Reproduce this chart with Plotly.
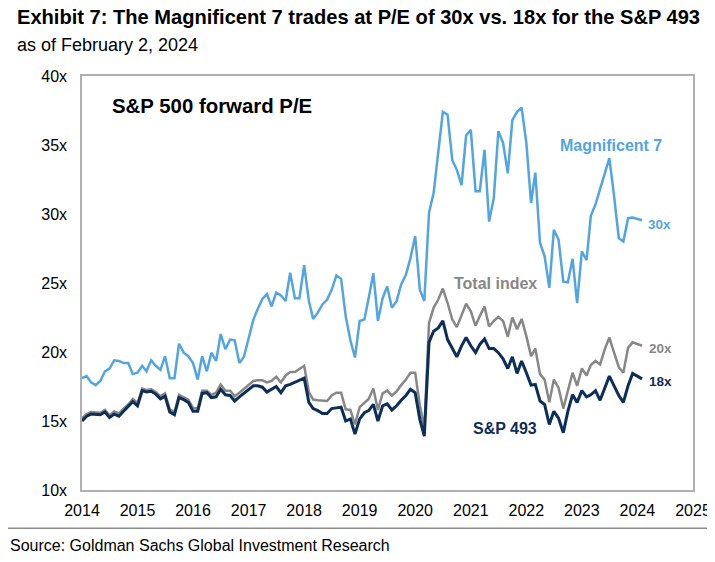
import plotly.graph_objects as go
import pandas as pd

dates = pd.date_range("2014-01-01", periods=122, freq="MS")

mag7 = [18.1, 18.25, 17.8, 17.6, 17.9, 18.6, 18.8, 19.4, 19.35, 19.2, 19.2, 18.4, 18.5, 19.0, 18.6, 19.4,
        19.0, 18.7, 19.7, 18.1, 18.1, 20.6, 19.95, 19.7, 19.2, 18.0, 19.7, 18.6, 19.95, 19.35, 21.3, 20.2,
        20.9, 20.85, 19.2, 19.65, 21.0, 22.35, 23.1, 23.85, 24.2, 23.3, 24.3, 24.1, 23.7, 25.75, 23.9, 23.9,
        26.3, 23.7, 22.4, 22.85, 23.45, 23.8, 24.5, 25.55, 25.3, 22.6, 20.85, 19.6, 22.25, 22.35, 23.9, 25.7,
        22.25, 23.9, 24.75, 23.2, 23.7, 24.9, 25.6, 26.8, 28.4, 24.5, 23.7, 30.1, 31.5, 34.4, 37.4, 37.2,
        33.9, 33.2, 32.1, 35.7, 36.1, 31.65, 31.65, 34.65, 29.45, 31.15, 36.0, 35.15, 32.95, 36.8, 37.4, 37.7,
        35.15, 30.8, 33.0, 27.9, 26.95, 24.65, 28.85, 28.15, 25.1, 25.05, 26.75, 23.55, 27.3, 26.65, 29.85, 30.7,
        31.75, 32.95, 34.05, 31.3, 28.25, 28.0, 29.7, 29.75, 29.65, 29.55]

total_index = [15.2, 15.5, 15.65, 15.65, 15.6, 15.8, 15.4, 15.7, 15.55, 15.9, 16.2, 16.6, 16.3, 17.35, 17.25, 17.3,
               17.1, 16.8, 17.0, 15.85, 15.65, 16.9, 16.75, 16.55, 15.95, 15.9, 17.2, 17.2, 16.9, 17.05, 17.65, 17.2,
               17.2, 16.8, 17.05, 17.35, 17.6, 17.9, 17.95, 17.95, 17.8, 17.9, 18.2, 17.8, 18.3, 18.55, 18.55, 18.75,
               19.0, 17.1, 16.55, 16.5, 16.45, 16.45, 16.85, 17.05, 17.05, 15.85, 15.8, 14.75, 16.0, 16.3, 16.6, 17.35,
               15.8, 17.0, 17.2, 16.85, 17.15, 17.6, 18.0, 18.5, 18.5, 16.15, 14.4, 22.1, 23.2, 23.8, 24.6, 23.55,
               22.35, 21.8, 22.6, 23.5, 22.95, 21.9, 22.6, 23.3, 21.85, 22.25, 22.55, 22.25, 21.1, 22.5, 21.65, 22.4,
               21.15, 19.7, 20.25, 18.4, 18.0, 16.35, 18.0, 17.4, 15.9, 17.2, 18.5, 17.55, 18.8, 18.3, 19.05, 19.35,
               19.1, 20.2, 21.05, 19.95, 18.9, 18.5, 20.3, 20.7, 20.6, 20.45]

sp493 = [15.0, 15.35, 15.5, 15.5, 15.45, 15.65, 15.25, 15.5, 15.35, 15.7, 16.05, 16.4, 16.1, 17.2, 17.1, 17.15,
         16.95, 16.6, 16.8, 15.65, 15.45, 16.7, 16.55, 16.35, 15.7, 15.7, 17.0, 17.05, 16.7, 16.75, 17.3, 16.9,
         16.85, 16.45, 16.75, 17.0, 17.25, 17.55, 17.55, 17.45, 17.1, 17.3, 17.5, 17.05, 17.55, 17.65, 17.8, 17.95,
         18.1, 16.35, 15.9, 15.75, 15.55, 15.55, 15.9, 15.95, 16.0, 15.0, 15.15, 14.05, 15.15, 15.6, 15.75, 16.2,
         15.0, 16.1, 16.25, 15.8, 16.1, 16.5, 16.85, 17.3, 17.05, 15.1, 13.9, 20.7, 21.5, 21.75, 22.25, 20.9,
         20.3, 19.65, 20.45, 21.05, 20.45, 19.95, 20.55, 20.95, 20.25, 20.25, 19.95, 19.5, 18.8, 19.65, 18.45, 19.35,
         18.5, 17.6, 17.65, 16.45, 16.2, 14.75, 15.7, 15.2, 14.15, 15.7, 16.9, 16.35, 17.2, 16.75, 16.9, 17.2,
         16.5, 17.45, 18.25, 17.55, 16.85, 16.35, 17.55, 18.45, 18.25, 18.05]

y_ticks = [10, 15, 20, 25, 30, 35, 40]
y_tick_labels = ["10x", "15x", "20x", "25x", "30x", "35x", "40x"]

C_MAG = "#52a5e0"
C_TOT = "#878787"
C_493 = "#0c2f5a"
FONT = "Liberation Sans, Arial, sans-serif"

fig = go.Figure()
fig.add_trace(go.Scatter(x=dates, y=mag7, mode="lines", line=dict(color=C_MAG, width=2.5), name="Magnificent 7"))
fig.add_trace(go.Scatter(x=dates, y=total_index, mode="lines", line=dict(color=C_TOT, width=2.5), name="Total index"))
fig.add_trace(go.Scatter(x=dates, y=sp493, mode="lines", line=dict(color=C_493, width=3), name="S&P 493"))

ann = []
def add(text, x, y, color, size, bold=True):
    ann.append(dict(text=("<b>%s</b>" % text) if bold else text, x=x, y=y, xref="paper", yref="paper",
                    showarrow=False, xanchor="left", yanchor="middle", borderpad=0,
                    font=dict(family=FONT, size=size, color=color)))

add("Exhibit 7: The Magnificent 7 trades at P/E of 30x vs. 18x for the S&P 493", -0.108, 1.143, "#000000", 20.1)
add("as of February 2, 2024", -0.108, 1.075, "#000000", 18, bold=False)
add("Source: Goldman Sachs Global Investment Research", -0.12, -0.135, "#000000", 16, bold=False)
add("S&P 500 forward P/E", 0.048, 0.9275, "#000000", 20.4)
add("Magnificent 7", 0.78, 0.831, C_MAG, 16)
add("30x", 0.925, 0.642, C_MAG, 13.5)
add("Total index", 0.608, 0.4993, C_TOT, 16)
add("20x", 0.927, 0.3423, C_TOT, 13.5)
add("18x", 0.927, 0.2616, C_493, 13.5)
add("S&P 493", 0.638, 0.149, C_493, 16)

fig.update_layout(
    width=715, height=562,
    margin=dict(l=74, r=21, t=68, b=80),
    paper_bgcolor="white", plot_bgcolor="white",
    showlegend=False,
    font=dict(family=FONT, size=16, color="#000000"),
    annotations=ann,
    shapes=[dict(type="line", xref="paper", yref="paper", x0=-0.125, x1=1.05, y0=-0.0925, y1=-0.0925,
                 line=dict(color="#8c8c8c", width=1.5))],
    xaxis=dict(type="date", range=["2014-01-01", "2025-01-01"], dtick="M12", tick0="2014-01-01",
               tickformat="%Y", showgrid=False, zeroline=False, showline=True, mirror=True,
               linecolor="#b0b0b0", linewidth=1.5, ticks="", ticklabelstandoff=5,
               tickfont=dict(family=FONT, size=16, color="#000000")),
    yaxis=dict(range=[10, 40], tickvals=y_ticks, ticktext=y_tick_labels, showgrid=False, zeroline=False,
               showline=True, mirror=True, linecolor="#b0b0b0", linewidth=1.5, ticks="", ticklabelstandoff=10,
               tickfont=dict(family=FONT, size=16, color="#000000")),
)

fig.write_html("out.html")
